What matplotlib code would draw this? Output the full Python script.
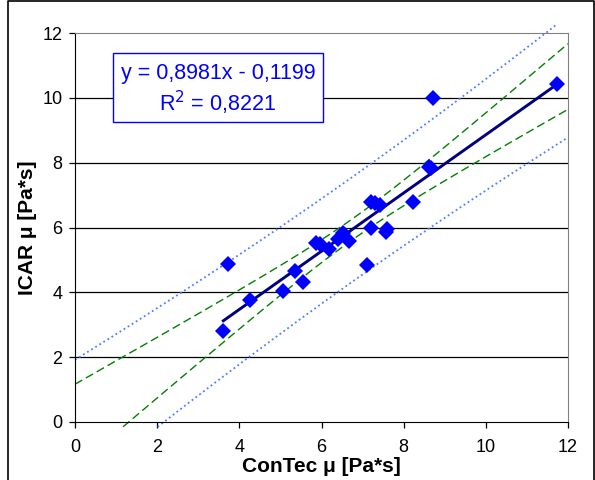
import numpy as np
import matplotlib
matplotlib.use('Agg')
import matplotlib.pyplot as plt
from matplotlib.lines import Line2D

contec = [3.61, 3.73, 4.26, 5.06, 5.36, 5.54, 5.87, 5.96, 6.19, 6.41, 6.53, 6.68,
          7.10, 7.21, 7.20, 7.30, 7.42, 7.59, 7.57, 8.22, 8.62, 8.66, 8.72, 11.74]
icar = [2.82, 4.87, 3.77, 4.05, 4.66, 4.33, 5.51, 5.49, 5.35, 5.64, 5.82, 5.59,
        4.83, 6.00, 6.80, 6.77, 6.68, 5.95, 5.85, 6.80, 7.88, 7.83, 10.00, 10.42]

slope = 0.8981
intercept = -0.1199
eq_text = "y = 0,8981x - 0,1199"
r2_text = "R$^2$ = 0,8221"
T_CRIT = 2.074  # t(0.975, n-2) for n=24

x = np.array(contec)
y = np.array(icar)
n = len(x)

# confidence / prediction bands around the stated fit
resid = y - (slope * x + intercept)
s = np.sqrt(np.sum(resid**2) / (n - 2))
xbar = x.mean()
sxx = np.sum((x - xbar)**2)

xg = np.linspace(0, 12, 1200)
yg = slope * xg + intercept
se_fit = s * np.sqrt(1.0/n + (xg - xbar)**2 / sxx)
se_pred = s * np.sqrt(1.0 + 1.0/n + (xg - xbar)**2 / sxx)


def trim(v, lo=-0.15, hi=12.25):
    v = v.copy()
    v[(v < lo) | (v > hi)] = np.nan
    return v


plt.rcParams['font.family'] = ['Liberation Sans', 'DejaVu Sans']

W, H = 595, 480
fig = plt.figure(figsize=(W/100, H/100), dpi=100)
ax = fig.add_axes([75/W, 1 - 422/H, (568-75)/W, (422-33)/H])

for yv in [2, 4, 6, 8, 10]:
    ax.axhline(yv, color='black', lw=0.9, zorder=1)

ax.plot(xg, trim(yg + T_CRIT*se_pred), ':', color='#4a7dff', lw=1.3, clip_on=False, zorder=2)
ax.plot(xg, trim(yg - T_CRIT*se_pred), ':', color='#4a7dff', lw=1.3, clip_on=False, zorder=2)
ax.plot(xg, trim(yg + T_CRIT*se_fit), '--', color='#008000', lw=1.0, dashes=(6, 3), clip_on=False, zorder=2)
ax.plot(xg, trim(yg - T_CRIT*se_fit), '--', color='#008000', lw=1.0, dashes=(6, 3), clip_on=False, zorder=2)

xl = np.array([x.min(), x.max()])
ax.plot(xl, slope*xl + intercept, '-', color='#000080', lw=2.1, zorder=3)

ax.plot(x, y, 'D', color='#0000ff', markersize=8, markeredgewidth=0, zorder=4)

ax.set_xlim(0, 12)
ax.set_ylim(0, 12)
ax.set_xticks(range(0, 13, 2))
ax.set_yticks(range(0, 13, 2))
ax.tick_params(axis='both', direction='out', length=4, width=0.9, labelsize=13)
ax.tick_params(axis='x', pad=8)
ax.tick_params(axis='y', pad=5)
for side in ['top', 'right']:
    ax.spines[side].set_color('#808080')
for side in ['left', 'bottom']:
    ax.spines[side].set_color('black')

ax.set_xlabel('ConTec μ [Pa*s]', fontsize=15, fontweight='bold', labelpad=1)
ax.set_ylabel('ICAR μ [Pa*s]', fontsize=15, fontweight='bold', labelpad=4)

# equation box
box_x0, box_x1 = (112.7-75)/493, (323-75)/493
box_y0, box_y1 = (422-121.7)/389, (422-53.3)/389
ax.add_patch(plt.Rectangle((box_x0, box_y0), box_x1-box_x0, box_y1-box_y0,
                           transform=ax.transAxes, facecolor='white',
                           edgecolor='#0000ff', lw=1.0, zorder=5))
cx = (box_x0 + box_x1) / 2
ax.text(cx, (422-73.3)/389, eq_text, transform=ax.transAxes, ha='center', va='center',
        color='#0000ff', fontsize=15.5, zorder=6)
ax.text(cx, (422-103.3)/389, r2_text, transform=ax.transAxes, ha='center', va='center',
        color='#0000ff', fontsize=15.5, zorder=6)

# outer frame (left, top, right)
fx0, fx1, fy1 = 8/W, 1 - 1.5/W, 1 - 1/H
fig.lines.append(Line2D([fx0, fx0, fx1, fx1], [0, fy1, fy1, 0], transform=fig.transFigure,
                        color='black', lw=1.2))

fig.savefig('out.png', dpi=100)
